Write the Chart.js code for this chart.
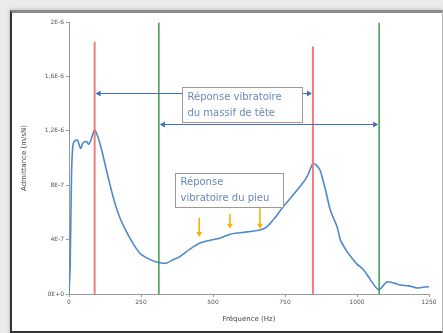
<!DOCTYPE html>
<html>
<head>
<meta charset="utf-8">
<script src="https://cdn.jsdelivr.net/npm/chart.js@4"></script>
<style>
  html, body { margin: 0; padding: 0; }
  body { width: 443px; height: 333px; background: #ebebed; position: relative; overflow: hidden; }
  #frame {
    position: absolute; left: 10px; top: 10px; width: 430px; height: 318px;
    background: #fff;
    border-left: 2px solid #333; border-top: 3px solid #8a8a8e;
    border-bottom: 3px solid #333; border-right: 1px solid #b8b8bc;
    box-shadow: 0 0 4px rgba(0,0,0,0.25);
  }
  #wrap { position: absolute; left: 0; top: 0; width: 443px; height: 333px; }
</style>
</head>
<body>
<div id="frame"></div>
<div id="wrap"><canvas id="chart" width="443" height="333"></canvas></div>
<script>
// admittance curve (Hz, m/sN)
const freqs = [0, 4, 9, 14, 22, 30, 36, 41, 48, 55, 62, 68, 74, 82, 89, 96, 107, 118, 130, 145,
  159, 175, 194, 220, 246, 275, 304, 320, 339, 360, 385, 420, 455, 490, 524, 560, 594, 630,
  663, 688, 715, 743, 775, 802, 826, 840, 847, 858, 872, 890, 907, 920, 931, 942, 960, 980,
  1000, 1022, 1045, 1065, 1077, 1090, 1105, 1130, 1150, 1180, 1209, 1230, 1254];
const admittance = [0, 0.2e-6, 0.9e-6, 1.10e-6, 1.13e-6, 1.13e-6, 1.09e-6, 1.07e-6, 1.11e-6, 1.12e-6,
  1.12e-6, 1.10e-6, 1.12e-6, 1.17e-6, 1.21e-6, 1.18e-6, 1.11e-6, 1.02e-6, 0.91e-6, 0.78e-6,
  0.67e-6, 0.57e-6, 0.48e-6, 0.38e-6, 0.30e-6, 0.26e-6, 0.235e-6, 0.228e-6, 0.228e-6, 0.25e-6,
  0.275e-6, 0.33e-6, 0.375e-6, 0.395e-6, 0.41e-6, 0.44e-6, 0.45e-6, 0.46e-6, 0.47e-6, 0.495e-6,
  0.56e-6, 0.64e-6, 0.72e-6, 0.79e-6, 0.86e-6, 0.93e-6, 0.96e-6, 0.95e-6, 0.91e-6, 0.77e-6,
  0.62e-6, 0.55e-6, 0.495e-6, 0.40e-6, 0.33e-6, 0.27e-6, 0.22e-6, 0.18e-6, 0.11e-6, 0.05e-6,
  0.03e-6, 0.06e-6, 0.09e-6, 0.08e-6, 0.066e-6, 0.06e-6, 0.044e-6, 0.05e-6, 0.054e-6];

// marker lines
const redFreqs = [89, 847];
const redTops = [1.855e-6, 1.82e-6];
const greenFreqs = [312, 1077];
const greenTops = [1.995e-6, 1.995e-6];

// double arrows [from, to, level]
const spanArrows = [[89, 847, 1.48e-6], [312, 1077, 1.25e-6]];
// orange arrows [freq, start, tip]
const pileArrows = [[452, 0.56e-6, 0.42e-6], [559, 0.59e-6, 0.48e-6], [663, 0.63e-6, 0.48e-6]];

// text boxes [f0, f1, yTop, yBottom, lines]
const notes = [
  [391, 810, 1.52e-6, 1.265e-6, ["Réponse vibratoire", "du massif de tête"]],
  [367, 743, 0.89e-6, 0.64e-6, ["Réponse", "vibratoire du pieu"]]
];

const yTicks = [0, 4e-7, 8e-7, 1.2e-6, 1.6e-6, 2e-6];
const yTickLabels = ["0E+0", "4E-7", "8E-7", "1,2E-6", "1,6E-6", "2E-6"];
const xTicks = [0, 250, 500, 750, 1000, 1250];
const xTickLabels = ["0", "250", "500", "750", "1000", "1250"];

function vline(f, top, color, w) {
  return {
    data: [{ x: f, y: 0 }, { x: f, y: top }],
    showLine: true, borderColor: color, borderWidth: w, pointRadius: 0
  };
}

function arrowHead(ctx, x, y, dx, dy, size) {
  const len = Math.hypot(dx, dy);
  const ux = dx / len, uy = dy / len;
  ctx.beginPath();
  ctx.moveTo(x, y);
  ctx.lineTo(x - ux * size - uy * size * 0.6, y - uy * size + ux * size * 0.6);
  ctx.lineTo(x - ux * size + uy * size * 0.6, y - uy * size - ux * size * 0.6);
  ctx.closePath();
  ctx.fill();
}

const extras = {
  id: "extras",
  afterDatasetsDraw(chart) {
    const ctx = chart.ctx;
    const xs = chart.scales.x, ys = chart.scales.y;
    ctx.save();
    // blue span arrows
    ctx.strokeStyle = "#3f6fc4";
    ctx.fillStyle = "#3f6fc4";
    ctx.lineWidth = 1;
    for (const [a, b, v] of spanArrows) {
      const x0 = xs.getPixelForValue(a), x1 = xs.getPixelForValue(b), y = Math.round(ys.getPixelForValue(v)) + 0.5;
      ctx.beginPath();
      ctx.moveTo(x0 + 2, y);
      ctx.lineTo(x1 - 2, y);
      ctx.stroke();
      arrowHead(ctx, x0 + 1, y, -1, 0, 5);
      arrowHead(ctx, x1 - 1, y, 1, 0, 5);
    }
    // text boxes
    ctx.font = "10px 'DejaVu Sans'";
    ctx.textBaseline = "middle";
    for (const [f0, f1, t, b, lines] of notes) {
      const x0 = Math.round(xs.getPixelForValue(f0)) + 0.5, x1 = Math.round(xs.getPixelForValue(f1)) + 0.5;
      const y0 = Math.round(ys.getPixelForValue(t)) + 0.5, y1 = Math.round(ys.getPixelForValue(b)) + 0.5;
      ctx.fillStyle = "#fff";
      ctx.fillRect(x0, y0, x1 - x0, y1 - y0);
      ctx.strokeStyle = "#9a9a9a";
      ctx.lineWidth = 1;
      ctx.strokeRect(x0, y0, x1 - x0, y1 - y0);
      ctx.fillStyle = "#6a86b8";
      const h = (y1 - y0) / (lines.length + 0.2);
      lines.forEach((s, i) => ctx.fillText(s, x0 + 5, y0 + h * (i + 0.6)));
    }
    // orange arrows
    ctx.strokeStyle = "#f5b400";
    ctx.fillStyle = "#f5b400";
    ctx.lineWidth = 1.6;
    for (const [f, s, e] of pileArrows) {
      const x = xs.getPixelForValue(f), y0 = ys.getPixelForValue(s), y1 = ys.getPixelForValue(e);
      ctx.beginPath();
      ctx.moveTo(x, y0);
      ctx.lineTo(x, y1 - 3);
      ctx.stroke();
      arrowHead(ctx, x, y1, 0, 1, 5);
    }
    ctx.restore();
  }
};

new Chart(document.getElementById("chart"), {
  type: "scatter",
  data: {
    datasets: [
      vline(redFreqs[0], redTops[0], "#f07c7c", 2),
      vline(redFreqs[1], redTops[1], "#f07c7c", 2),
      vline(greenFreqs[0], greenTops[0], "#3f9a4c", 1.5),
      vline(greenFreqs[1], greenTops[1], "#3f9a4c", 1.5),
      {
        data: freqs.map((f, i) => ({ x: f, y: admittance[i] })),
        showLine: true, borderColor: "#4f88cc", borderWidth: 1.6,
        pointRadius: 0, tension: 0.2
      }
    ]
  },
  options: {
    responsive: false,
    animation: false,
    events: [],
    layout: { padding: { left: 12, top: 22, right: 14, bottom: 8 } },
    plugins: { legend: { display: false }, tooltip: { enabled: false } },
    scales: {
      x: {
        type: "linear", min: 0, max: 1250,
        afterBuildTicks: s => { s.ticks = xTicks.map(v => ({ value: v })); },
        afterTickToLabelConversion: s => {
          s.ticks.forEach(t => { t.label = xTickLabels[xTicks.indexOf(t.value)]; });
        },
        afterFit: s => { s.height = 31; },
        grid: { display: true, drawOnChartArea: false, tickLength: 3, color: "#999" },
        border: { color: "#999", width: 1 },
        ticks: { font: { size: 6, family: "'DejaVu Sans'" }, color: "#555", padding: 2, maxRotation: 0,
          format: { useGrouping: false } },
        title: { display: true, text: "Fréquence (Hz)", font: { size: 7, family: "'DejaVu Sans'" }, color: "#444", padding: { top: 0, bottom: 2 } }
      },
      y: {
        min: 0, max: 2e-6,
        afterBuildTicks: s => { s.ticks = yTicks.map(v => ({ value: v })); },
        afterFit: s => { s.width = 57; },
        grid: { display: true, drawOnChartArea: false, tickLength: 3, color: "#999" },
        border: { color: "#999", width: 1 },
        ticks: {
          font: { size: 6, family: "'DejaVu Sans'" }, color: "#555", padding: 2,
          callback: (v) => yTickLabels[yTicks.findIndex(t => Math.abs(t - v) < 1e-9)]
        },
        title: { display: true, text: "Admittance (m/sN)", font: { size: 7, family: "'DejaVu Sans'" }, color: "#444", padding: { top: 8, bottom: 0 } }
      }
    }
  },
  plugins: [extras]
});
</script>
</body>
</html>
